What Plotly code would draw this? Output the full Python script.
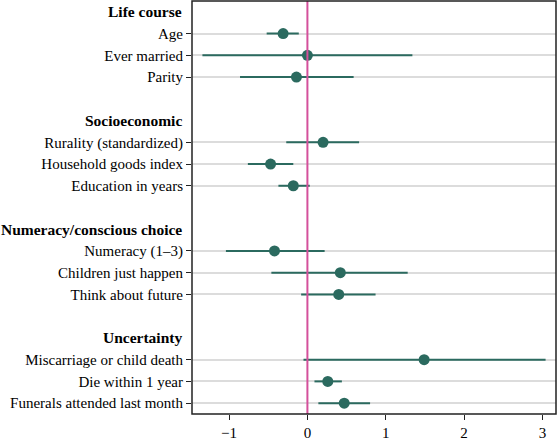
import plotly.graph_objects as go

headers = ["Life course", "Socioeconomic", "Numeracy/conscious choice", "Uncertainty"]
header_rows = [0, 5, 10, 15]

labels = ["Age", "Ever married", "Parity",
          "Rurality (standardized)", "Household goods index", "Education in years",
          "Numeracy (1–3)", "Children just happen", "Think about future",
          "Miscarriage or child death", "Die within 1 year", "Funerals attended last month"]
label_rows = [1, 2, 3, 6, 7, 8, 11, 12, 13, 16, 17, 18]

estimate = [-0.31, 0.00, -0.14, 0.20, -0.47, -0.18, -0.42, 0.42, 0.40, 1.49, 0.26, 0.47]
ci_low = [-0.52, -1.34, -0.86, -0.27, -0.76, -0.37, -1.04, -0.46, -0.08, -0.05, 0.09, 0.14]
ci_high = [-0.11, 1.34, 0.59, 0.66, -0.18, 0.03, 0.22, 1.28, 0.87, 3.04, 0.44, 0.80]

teal = "#2b6a5f"
font_family = "Liberation Serif, Times New Roman, serif"

fig = go.Figure()
fig.add_trace(go.Scatter(
    x=estimate, y=label_rows, mode="markers",
    marker=dict(color=teal, size=11),
    error_x=dict(type="data", symmetric=False,
                 array=[h - e for h, e in zip(ci_high, estimate)],
                 arrayminus=[e - l for e, l in zip(estimate, ci_low)],
                 color=teal, thickness=2, width=0),
    showlegend=False, cliponaxis=False,
))

fig.add_shape(type="line", x0=0, x1=0, xref="x", y0=0, y1=1, yref="paper",
              line=dict(color="#d4509b", width=2), layer="above")
fig.add_shape(type="rect", x0=0, x1=1, y0=0, y1=1, xref="paper", yref="paper",
              line=dict(color="#222", width=1.5), fillcolor="rgba(0,0,0,0)",
              layer="above")

for h, r in zip(headers, header_rows):
    fig.add_annotation(x=0, xref="paper", y=r, yref="y", text="<b>" + h + "</b>",
                       showarrow=False, xanchor="right", xshift=-8,
                       font=dict(family=font_family, size=15.5, color="black"))

fig.update_layout(
    width=558, height=438,
    margin=dict(l=192, r=2, t=1, b=24, autoexpand=False),
    paper_bgcolor="white", plot_bgcolor="white",
    font=dict(family=font_family, size=15, color="black"),
    xaxis=dict(range=[-1.473, 3.173], tickvals=[-1, 0, 1, 2, 3],
               showgrid=False, zeroline=False, showline=False,
               ticks="outside", ticklen=5, tickcolor="#222", tickwidth=1.2,
               automargin=False, tickfont=dict(size=15)),
    yaxis=dict(range=[18.5, -0.5], tickvals=label_rows, ticktext=labels,
               showgrid=True, gridcolor="#dcdcdc", gridwidth=2, zeroline=False,
               showline=False,
               ticks="outside", ticklen=5, tickcolor="#222", tickwidth=1.2,
               automargin=False, tickfont=dict(size=15)),
)

fig.write_html("out.html", config={"displayModeBar": False},
               post_script="document.body.style.margin='0';document.body.style.padding='0';")
